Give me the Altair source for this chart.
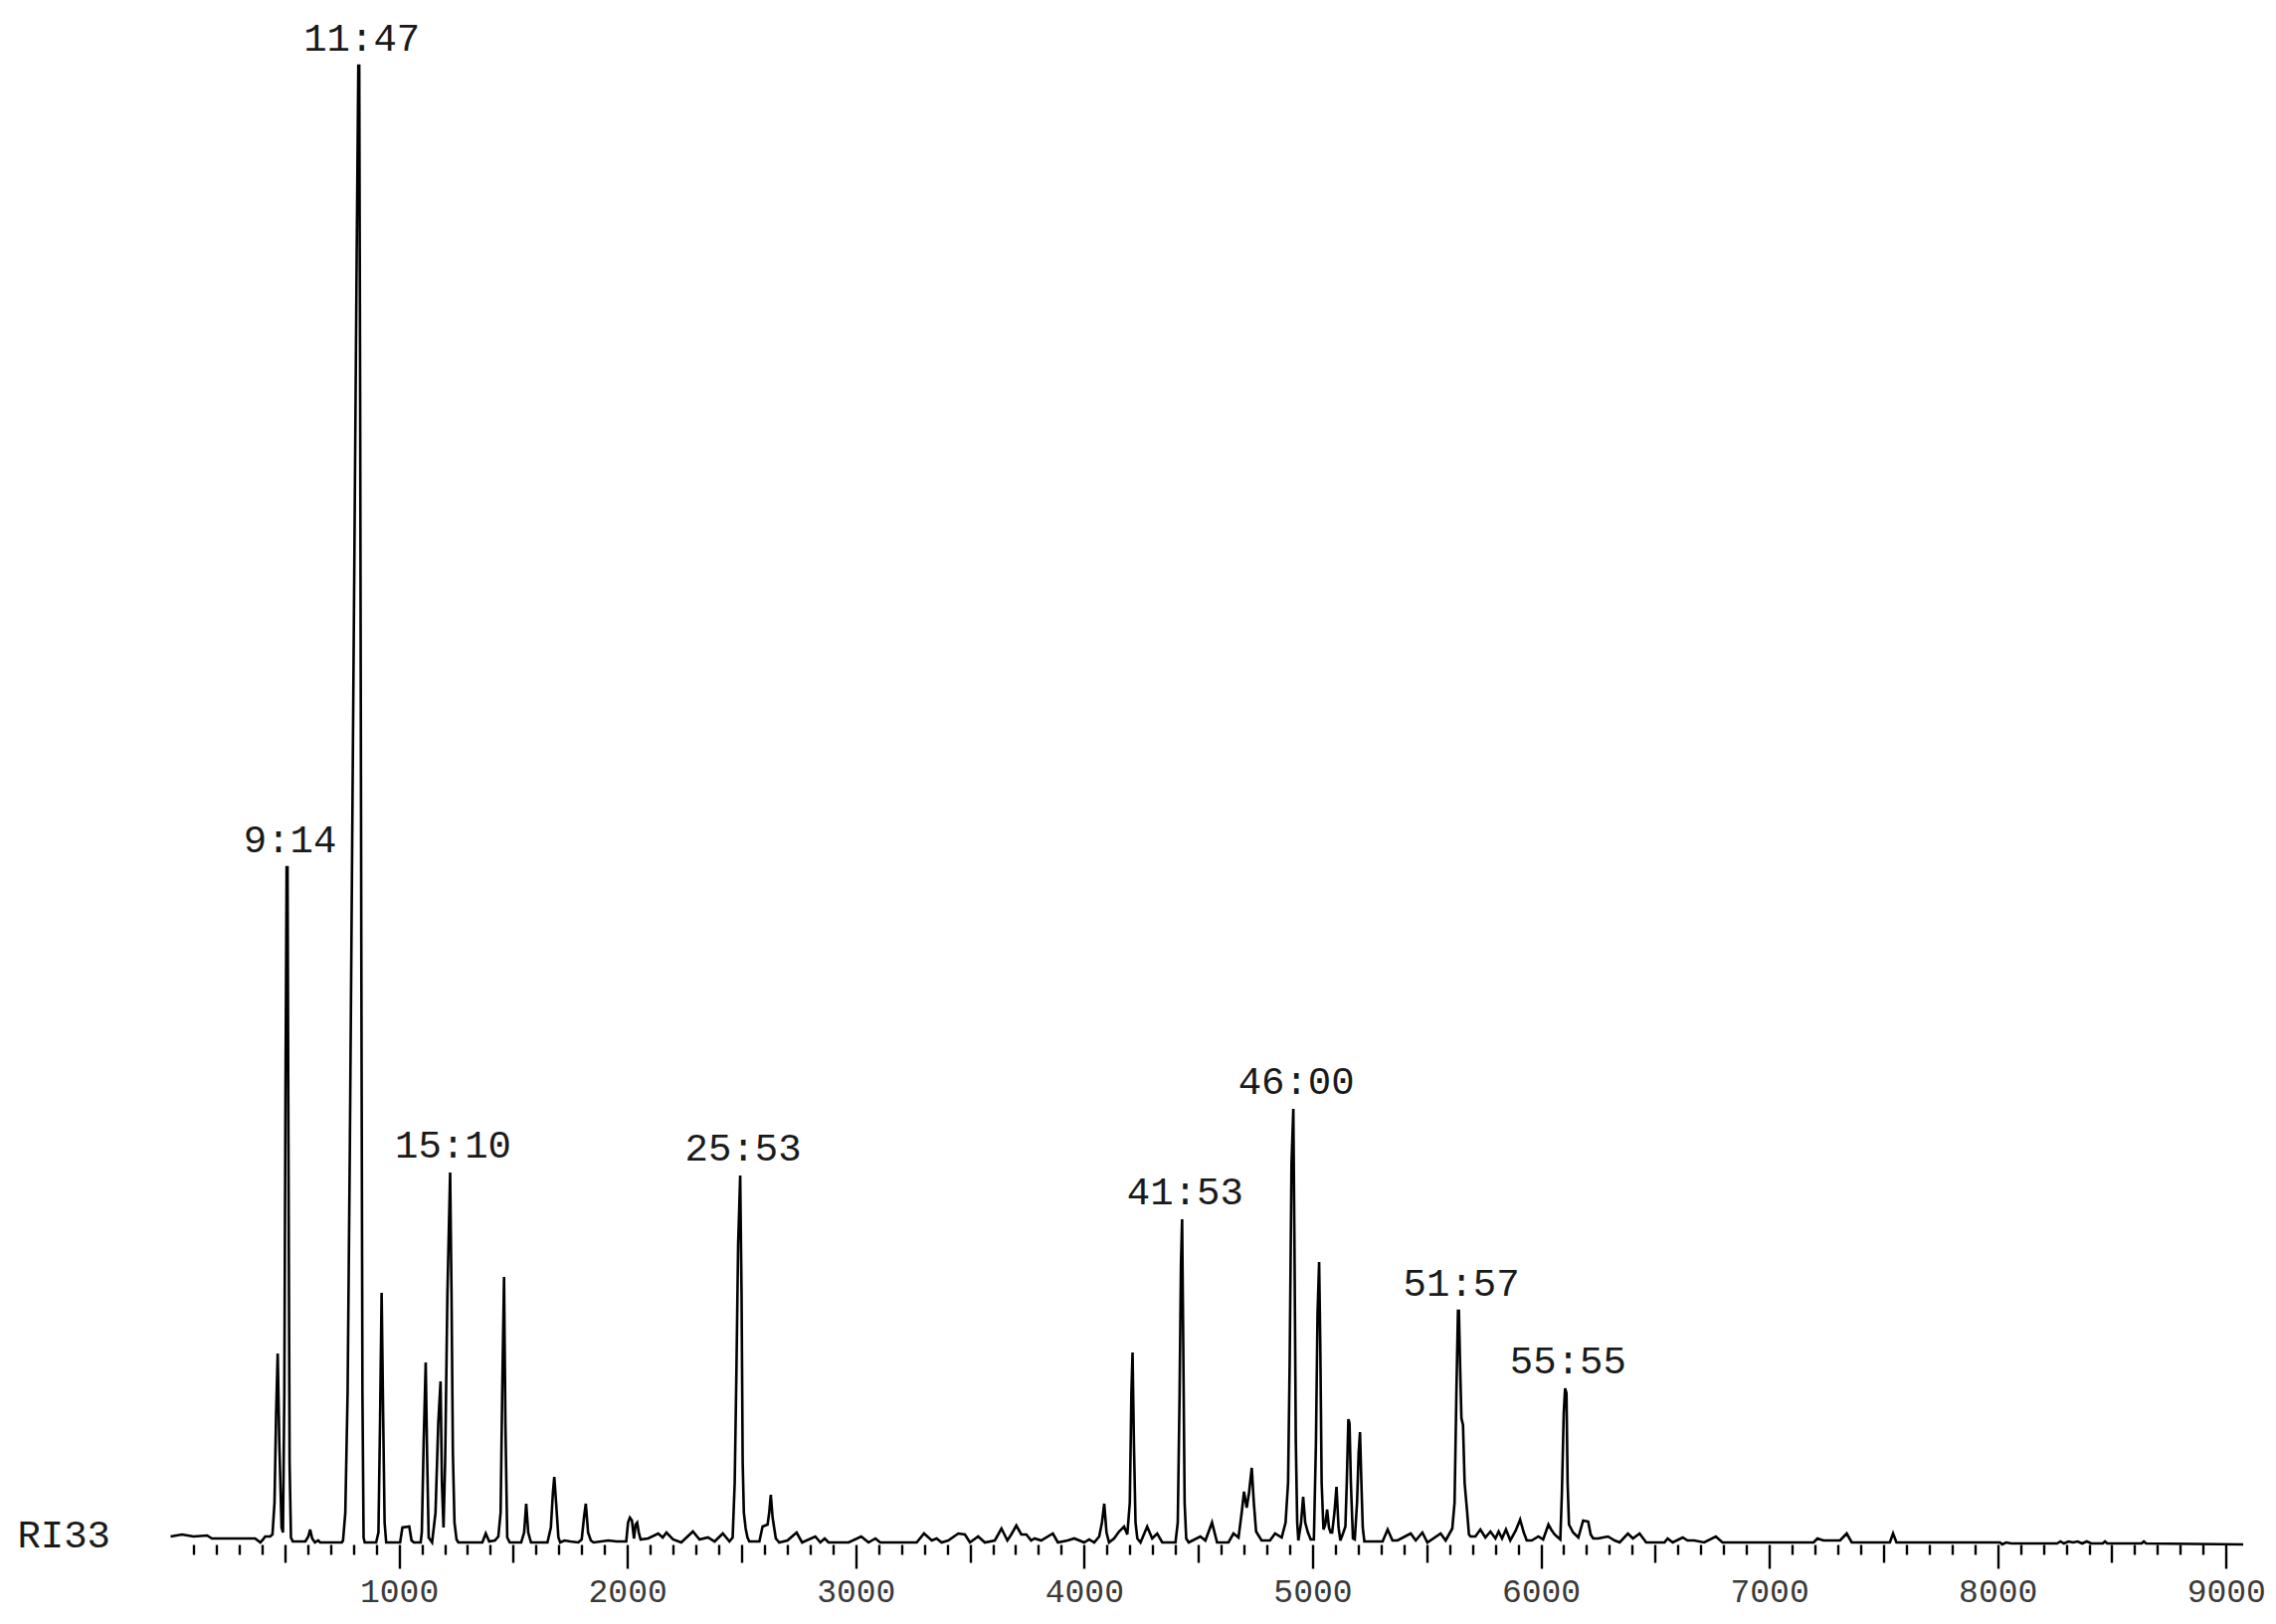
import altair as alt
import pandas as pd

FONT = "Liberation Mono"

# ---- chromatogram trace (retention index vs. detector signal) ----
RI_A = [0, 50, 100, 160, 181, 370, 393, 405, 414, 436, 446, 455, 462, 469, 476,
        486, 492, 498, 503, 508, 512, 516, 521, 527, 535, 590, 603, 611, 620, 632,
        646, 655, 750, 755, 765, 775, 785, 795, 805, 815, 822, 826, 830, 835, 840,
        845, 850, 900, 910, 917, 924, 930, 937, 944, 1005, 1015, 1045, 1055, 1065, 1095,
        1100, 1108, 1117, 1123, 1130, 1145, 1160, 1172, 1182, 1188, 1195, 1202, 1212, 1224, 1230,
        1236, 1243, 1252, 1260]
SIG_A = [6, 8, 6, 7, 4, 4, 0, 3, 6, 6, 8, 40, 130, 190, 100,
         15, 10, 150, 450, 679, 679, 400, 80, 5, 1, 1, 6, 13, 4, 0,
         2, 0, 0, 2, 30, 150, 400, 700, 1000, 1300, 1485, 1485, 1150, 600, 150,
         5, 0, 0, 10, 120, 251, 140, 20, 0, 0, 15, 16, 2, 0, 0,
         10, 100, 181, 90, 5, 0, 30, 120, 162, 60, 15, 80, 250, 372, 250,
         90, 20, 3, 0]

RI_B = [1365, 1380, 1395, 1420, 1435, 1445, 1452, 1460, 1466, 1474, 1485, 1535, 1548, 1557, 1566,
        1578, 1650, 1665, 1674, 1680, 1688, 1698, 1706, 1725, 1750, 1785, 1800, 1810, 1818, 1828,
        1840, 1852, 1917, 1953, 1995, 2003, 2011, 2020, 2029, 2036, 2043, 2050, 2058, 2091, 2135,
        2155, 2171, 2200, 2236, 2287, 2316, 2353, 2382, 2418, 2447, 2461, 2470, 2478, 2485, 2489,
        2494, 2500, 2505, 2510, 2518, 2526, 2534, 2578, 2592, 2614, 2621, 2628, 2636, 2650, 2665]
SIG_B = [0, 9, 1, 2, 6, 30, 150, 267, 120, 5, 0, 0, 10, 39, 10,
         0, 0, 15, 50, 66, 40, 5, 0, 2, 1, 0, 3, 25, 39, 10,
         2, 0, 2, 1, 1, 20, 25, 22, 4, 18, 20, 10, 3, 4, 9,
         5, 10, 3, 0, 11, 3, 5, 1, 9, 1, 5, 60, 180, 300, 330,
         369, 250, 80, 30, 14, 5, 1, 1, 16, 18, 30, 48, 25, 4, 0]

RI_C = [2701, 2741, 2765, 2823, 2845, 2864, 2881, 2969, 3024, 3056, 3086, 3107, 3267, 3299, 3333,
        3354, 3376, 3405, 3449, 3478, 3500, 3536, 3565, 3609, 3638, 3664, 3681, 3703, 3725, 3747,
        3768, 3783, 3812, 3863, 3885, 3928, 3957, 4000, 4022, 4044, 4066, 4078, 4088, 4098, 4109,
        4131, 4153, 4175, 4189, 4200, 4207, 4212, 4218, 4225, 4233, 4247, 4276, 4298, 4320, 4342,
        4400, 4410, 4418, 4424, 4429, 4434, 4440, 4447, 4458, 4509, 4531, 4560, 4582, 4632, 4654,
        4676, 4690, 4700, 4712, 4722, 4734, 4743, 4753, 4777, 4814, 4836, 4865, 4882, 4893, 4900,
        4908, 4916, 4921, 4927, 4933, 4938, 4950, 4959, 4968, 4980, 4992, 5006, 5015, 5022, 5029,
        5034, 5040, 5048, 5056, 5064, 5072, 5079, 5086, 5096, 5105, 5114, 5122, 5135, 5144, 5150,
        5157, 5162, 5168, 5177, 5185, 5195, 5202, 5208, 5214, 5220, 5227]
SIG_C = [2, 10, 0, 6, 0, 4, 0, 0, 6, 0, 4, 0, 0, 9, 2,
         4, 0, 2, 9, 8, 0, 6, 0, 2, 14, 2, 8, 17, 8, 8,
         2, 4, 2, 9, 0, 2, 4, 0, 3, 0, 6, 20, 39, 10, 0,
         4, 11, 16, 8, 40, 150, 191, 100, 20, 4, 0, 16, 4, 9, 0,
         0, 20, 150, 280, 325, 200, 40, 4, 0, 6, 2, 20, 0, 0, 9,
         5, 30, 51, 35, 50, 75, 40, 11, 2, 2, 9, 5, 20, 60, 180,
         380, 436, 300, 100, 20, 2, 20, 46, 20, 10, 3, 3, 100, 230, 282,
         200, 60, 13, 18, 33, 15, 10, 10, 30, 56, 15, 2, 10, 16, 60,
         124, 120, 60, 4, 3, 40, 90, 111, 60, 15, 1]

RI_D = [5307, 5329, 5350, 5372, 5430, 5452, 5481, 5503, 5561, 5583, 5612, 5622, 5630, 5637, 5641,
        5646, 5652, 5659, 5666, 5677, 5685, 5692, 5713, 5735, 5757, 5779, 5801, 5815, 5830, 5847,
        5866, 5890, 5909, 5925, 5938, 5960, 5989, 6010, 6033, 6045, 6060, 6075, 6085, 6092, 6100,
        6106, 6112, 6117, 6123, 6141, 6164, 6180, 6185, 6207, 6218, 6229, 6251, 6272, 6294, 6323,
        6345, 6381, 6403, 6432, 6461, 6541, 6555, 6577, 6621, 6642, 6671, 6715, 6766, 6795, 7194,
        7211, 7237, 7310, 7339, 7361, 7528, 7542, 7557, 8010, 8020, 8037, 8060, 8260, 8275, 8290,
        8310, 8330, 8350, 8370, 8390, 8410, 8460, 8470, 8480, 8630, 8640, 8650, 9075]
SIG_D = [1, 13, 2, 2, 9, 2, 10, 0, 9, 2, 14, 40, 150, 233, 233,
         180, 125, 118, 60, 31, 8, 6, 6, 13, 5, 11, 4, 11, 4, 13,
         2, 12, 23, 10, 2, 2, 6, 3, 18, 13, 8, 5, 3, 50, 130,
         155, 150, 60, 18, 10, 5, 18, 22, 21, 8, 4, 4, 5, 6, 2,
         0, 9, 4, 9, 0, 0, 4, 0, 5, 2, 2, 0, 6, 0, 0,
         4, 2, 2, 9, 0, 0, 9, 0, 0, -2, 0, -1, -1, 1, -1,
         1, 0, 1, -1, 1, -1, -1, 1, -1, -1, 1, -1, -2]

# ---- labelled peaks (retention times) ----
PEAK_LABELS = ["9:14", "11:47", "15:10", "25:53", "41:53", "46:00", "51:57", "55:55"]
PEAK_RI = [510, 824, 1224, 2494, 4429, 4916, 5639, 6106]
PEAK_SIGNAL = [679, 1485, 372, 369, 325, 436, 233, 155]

# ---- axis ticks ----
TICK_VALUES = list(range(100, 9001, 100))
TRACE_NAME = "RI33"

for a, b in [(RI_A, SIG_A), (RI_B, SIG_B), (RI_C, SIG_C), (RI_D, SIG_D)]:
    assert len(a) == len(b), (len(a), len(b))

trace = pd.DataFrame({
    "ri": RI_A + RI_B + RI_C + RI_D,
    "signal": SIG_A + SIG_B + SIG_C + SIG_D,
})
labels = pd.DataFrame({"ri": PEAK_RI, "signal": PEAK_SIGNAL, "label": PEAK_LABELS})

x_scale = alt.Scale(domain=[0, 9075], nice=False, zero=False)
y_scale = alt.Scale(domain=[0, 1485], nice=False, zero=False)

x_axis = alt.Axis(
    values=TICK_VALUES,
    title=None,
    domain=False,
    grid=False,
    offset=2,
    tickColor="black",
    tickWidth=2.4,
    tickSize={
        "condition": [
            {"test": "datum.value % 1000 === 0", "value": 24},
            {"test": "datum.value % 500 === 0", "value": 18},
        ],
        "value": 10,
    },
    labelExpr="datum.value % 1000 === 0 ? datum.value : ''",
    labelFont=FONT,
    labelFontSize=33,
    labelColor="#3a3a3a",
    labelPadding=7,
    labelAngle=0,
    labelOverlap=False,
    labelFlush=False,
)

y_axis = alt.Axis(
    values=[0],
    labelExpr="'" + TRACE_NAME + "'",
    title=None,
    domain=False,
    grid=False,
    ticks=False,
    tickSize=0,
    labelFont=FONT,
    labelFontSize=39,
    labelColor="#1a1a1a",
    labelPadding=61,
    labelBaseline="middle",
    labelOffset=-8,
)

line = alt.Chart(trace).mark_line(
    color="black", strokeWidth=2.6, interpolate="linear"
).encode(
    x=alt.X("ri:Q", scale=x_scale, axis=x_axis),
    y=alt.Y("signal:Q", scale=y_scale, axis=y_axis),
)

text = alt.Chart(labels).mark_text(
    font=FONT, fontSize=39, baseline="alphabetic", align="center",
    dy=-15, dx=3, color="#1a1a1a",
).encode(
    x=alt.X("ri:Q", scale=x_scale, axis=x_axis),
    y=alt.Y("signal:Q", scale=y_scale, axis=y_axis),
    text="label:N",
)

chart = alt.layer(line, text).properties(
    width=2083.5,
    height=1485,
    autosize=alt.AutoSizeParams(type="none"),
    padding={"left": 163.5, "top": 58, "right": 25, "bottom": 74},
    background="white",
).configure_view(stroke=None)

chart.save("out.html", embed_options={"renderer": "svg", "actions": False})
